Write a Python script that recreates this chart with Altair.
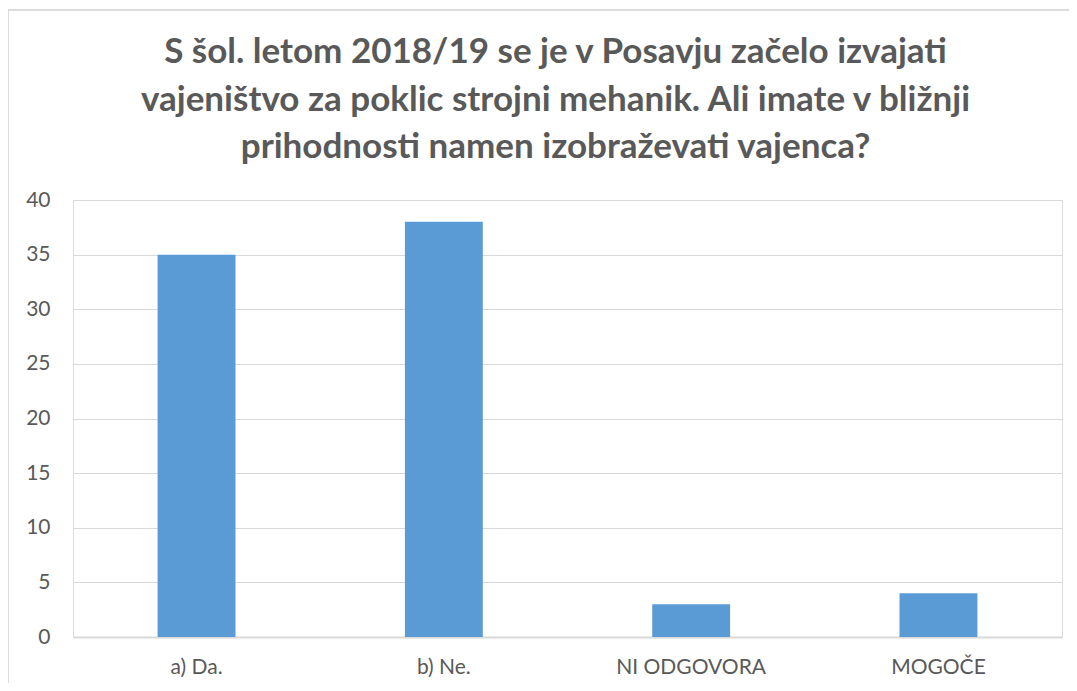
import altair as alt
import pandas as pd

categories = ["a) Da.", "b) Ne.", "NI ODGOVORA", "MOGOČE"]
values = [35, 38, 3, 4]
y_ticks = [0, 5, 10, 15, 20, 25, 30, 35, 40]
title_lines = [
    "S šol. letom 2018/19 se je v Posavju začelo izvajati",
    "vajeništvo za poklic strojni mehanik. Ali imate v bližnji",
    "prihodnosti namen izobraževati vajenca?",
]

df = pd.DataFrame({"cat": categories, "val": values})

W, H = 989, 437
PL, PT = 65, 192
LINE_Y = [-148, -100, -53]

border = alt.Chart(df).mark_rect(
    fillOpacity=0, stroke="#D9D9D9", strokeWidth=1, clip=False
).encode(
    x=alt.value(-PL), x2=alt.value(W + 40),
    y=alt.value(-PT + 2), y2=alt.value(H + 90),
)

titles = [
    alt.Chart(pd.DataFrame({"t": [line]})).mark_text(
        font="Lato", fontSize=35, fontWeight="bold", color="#595959",
        align="center", baseline="middle", clip=False,
    ).encode(text="t:N", x=alt.value(W / 2 - 12), y=alt.value(yy))
    for line, yy in zip(title_lines, LINE_Y)
]

bars = alt.Chart(df).mark_bar(color="#5B9BD5", clip=False).encode(
    x=alt.X("cat:N", sort=categories, title=None,
            scale=alt.Scale(paddingInner=0.685, paddingOuter=0.342),
            axis=alt.Axis(labelAngle=0, labelFontSize=21, labelColor="#595959",
                          labelFont="Lato", labelPadding=19, ticks=False,
                          domain=True, domainColor="#D9D9D9", domainWidth=2,
                          grid=False)),
    y=alt.Y("val:Q", title=None,
            scale=alt.Scale(domain=[0, 40], nice=False),
            axis=alt.Axis(values=y_ticks, labelFontSize=21, labelColor="#595959",
                          labelFont="Lato", labelPadding=23, ticks=False,
                          domain=False, grid=True, gridColor="#D9D9D9",
                          gridWidth=1)),
)

chart = alt.layer(border, bars, *titles).properties(
    width=W, height=H,
    padding={"left": PL, "top": PT, "right": 7, "bottom": 46},
    autosize=alt.AutoSizeParams(type="none"),
).configure_view(stroke=None).configure(background="white")

chart.save("out.html", embed_options={"renderer": "svg", "actions": False})
